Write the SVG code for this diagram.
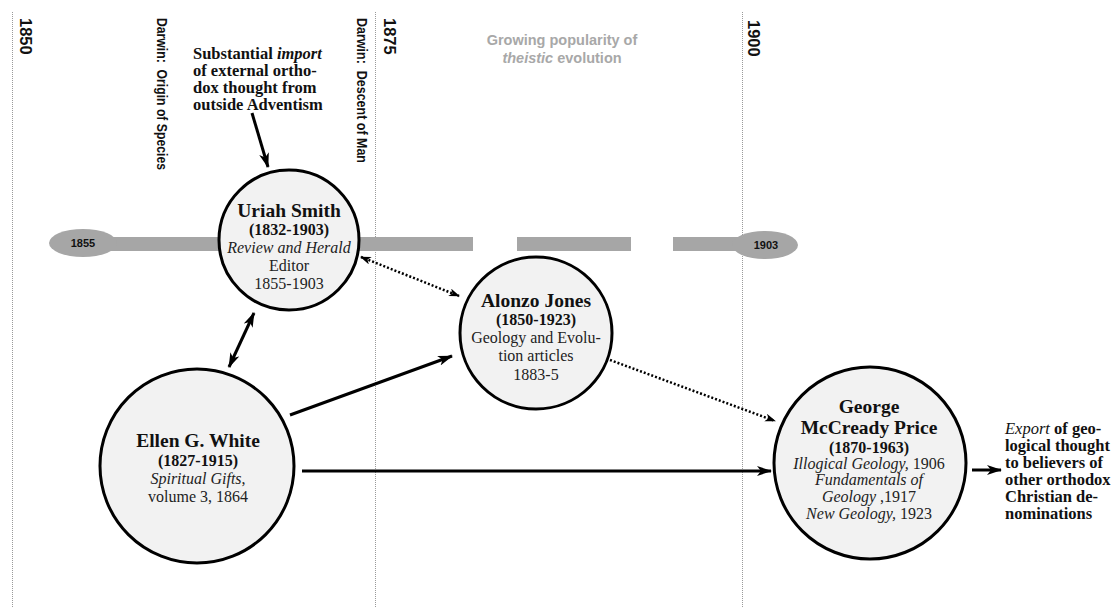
<svg xmlns="http://www.w3.org/2000/svg" width="1119" height="607" viewBox="0 0 1119 607">
  <style>
    .grid { stroke: #9a9a9a; stroke-width: 1; stroke-dasharray: 1 1; fill: none; }
    .yr { font-family: "Liberation Sans", Arial, sans-serif; font-weight: bold; font-size: 16.5px; fill: #111; }
    .ev { font-family: "Liberation Sans", Arial, sans-serif; font-weight: bold; font-size: 14.5px; fill: #111; }
    .grow { font-family: "Liberation Sans", Arial, sans-serif; font-weight: bold; font-size: 14.5px; fill: #a8a8a8; text-anchor: middle; }
    .bar { fill: #a6a6a6; }
    .pill { font-family: "Liberation Sans", Arial, sans-serif; font-weight: bold; font-size: 11px; fill: #111; text-anchor: middle; }
    .node circle { fill: #f2f2f2; stroke: #000; stroke-width: 3; }
    .node text { font-family: "Liberation Serif", "Times New Roman", serif; text-anchor: middle; fill: #222; font-size: 16px; }
    .node .nm { font-weight: bold; font-size: 19.5px; fill: #111; }
    .node .dt { font-weight: bold; font-size: 16px; fill: #111; }
    .note { font-family: "Liberation Serif", "Times New Roman", serif; font-weight: bold; font-size: 16.5px; fill: #111; }
    .solid { stroke: #000; stroke-width: 3; fill: none; }
    .dot { stroke: #000; stroke-width: 2.5; stroke-dasharray: 2 2; fill: none; }
  </style>
  <defs>
    <marker id="ah" markerUnits="userSpaceOnUse" markerWidth="16" markerHeight="12" refX="14" refY="5" orient="auto-start-reverse">
      <path d="M0,0 L15,5 L0,10 L4,5 z" fill="#000"/>
    </marker>
    <marker id="ahs" markerUnits="userSpaceOnUse" markerWidth="12" markerHeight="10" refX="10" refY="4" orient="auto-start-reverse">
      <path d="M0,0 L11,4 L0,8 L3,4 z" fill="#000"/>
    </marker>
  </defs>

  <rect width="1119" height="607" fill="#fff"/>

  <!-- era grid -->
  <g id="grid">
    <line class="grid" x1="12.5" y1="12" x2="12.5" y2="607"/>
    <line class="grid" x1="375.5" y1="12" x2="375.5" y2="607"/>
    <line class="grid" x1="742.5" y1="12" x2="742.5" y2="607"/>
    <text class="yr" transform="translate(20,18) rotate(90)">1850</text>
    <text class="yr" transform="translate(384,18) rotate(90)">1875</text>
    <text class="yr" transform="translate(748,20) rotate(90)">1900</text>
    <text class="ev" transform="translate(157,18) rotate(90)" textLength="152" lengthAdjust="spacingAndGlyphs" xml:space="preserve">Darwin:  Origin of Species</text>
    <text class="ev" transform="translate(357,18) rotate(90)" textLength="145" lengthAdjust="spacingAndGlyphs" xml:space="preserve">Darwin:  Descent of Man</text>
    <text class="grow" x="562" y="45">Growing popularity of</text>
    <text class="grow" x="562" y="63"><tspan font-style="italic">theistic</tspan> evolution</text>
  </g>

  <!-- tenure bar 1855-1903 -->
  <g id="timeline">
    <rect class="bar" x="105" y="237" width="368" height="14"/>
    <rect class="bar" x="517" y="237" width="114" height="14"/>
    <rect class="bar" x="673" y="237" width="90" height="14"/>
    <ellipse class="bar" cx="83" cy="243" rx="34" ry="14"/>
    <ellipse class="bar" cx="765" cy="245" rx="33" ry="14"/>
    <text class="pill" x="83" y="247">1855</text>
    <text class="pill" x="766" y="249">1903</text>
  </g>

  <g id="import-note">
    <text class="note" x="193" y="59">Substantial <tspan font-style="italic">import</tspan></text>
    <text class="note" x="193" y="76">of external ortho-</text>
    <text class="note" x="193" y="93">dox thought from</text>
    <text class="note" x="193" y="110">outside Adventism</text>
  </g>

  <g id="export-note">
    <text class="note" x="1005" y="434"><tspan font-style="italic" font-weight="normal">Export</tspan> of geo-</text>
    <text class="note" x="1005" y="451">logical thought</text>
    <text class="note" x="1005" y="468">to believers of</text>
    <text class="note" x="1005" y="485">other orthodox</text>
    <text class="note" x="1005" y="502">Christian de-</text>
    <text class="note" x="1005" y="519">nominations</text>
  </g>

  <!-- connectors -->
  <g id="connectors">
    <line class="solid" x1="252" y1="113" x2="268" y2="167" marker-end="url(#ah)"/>
    <line class="solid" x1="229" y1="367" x2="254" y2="313" marker-start="url(#ah)" marker-end="url(#ah)"/>
    <line class="solid" x1="290" y1="415" x2="452" y2="356" marker-end="url(#ah)"/>
    <line class="solid" x1="302" y1="471" x2="771" y2="471" marker-end="url(#ah)"/>
    <line class="solid" x1="972" y1="470" x2="1001" y2="470" marker-end="url(#ah)"/>
    <line class="dot" x1="361" y1="257" x2="459" y2="296" marker-start="url(#ahs)" marker-end="url(#ahs)"/>
    <line class="dot" x1="610" y1="360" x2="775" y2="421" marker-end="url(#ahs)"/>
  </g>

  <g id="uriah-smith" class="node">
    <circle cx="289" cy="240" r="70"/>
    <text class="nm" x="289" y="217">Uriah Smith</text>
    <text class="dt" x="289" y="235">(1832-1903)</text>
    <text x="289" y="253" font-style="italic">Review and Herald</text>
    <text x="289" y="271">Editor</text>
    <text x="289" y="289">1855-1903</text>
  </g>

  <g id="alonzo-jones" class="node">
    <circle cx="536" cy="333" r="76"/>
    <text class="nm" x="536" y="307">Alonzo Jones</text>
    <text class="dt" x="536" y="325">(1850-1923)</text>
    <text x="536" y="343">Geology and Evolu-</text>
    <text x="536" y="361">tion articles</text>
    <text x="536" y="380">1883-5</text>
  </g>

  <g id="ellen-white" class="node">
    <circle cx="197" cy="466" r="97"/>
    <text class="nm" x="198" y="447">Ellen G. White</text>
    <text class="dt" x="198" y="466">(1827-1915)</text>
    <text x="198" y="484" font-size="17px"><tspan font-style="italic">Spiritual Gifts</tspan>,</text>
    <text x="198" y="502" font-size="17px">volume 3, 1864</text>
  </g>

  <g id="george-price" class="node">
    <circle cx="870" cy="463" r="96"/>
    <text class="nm" x="869" y="413">George</text>
    <text class="nm" x="869" y="434">McCready Price</text>
    <text class="dt" x="869" y="453">(1870-1963)</text>
    <text x="869" y="469"><tspan font-style="italic">Illogical Geology,</tspan> 1906</text>
    <text x="869" y="485" font-style="italic">Fundamentals of</text>
    <text x="869" y="502"><tspan font-style="italic">Geology</tspan> ,1917</text>
    <text x="869" y="519"><tspan font-style="italic">New Geology,</tspan> 1923</text>
  </g>
</svg>
